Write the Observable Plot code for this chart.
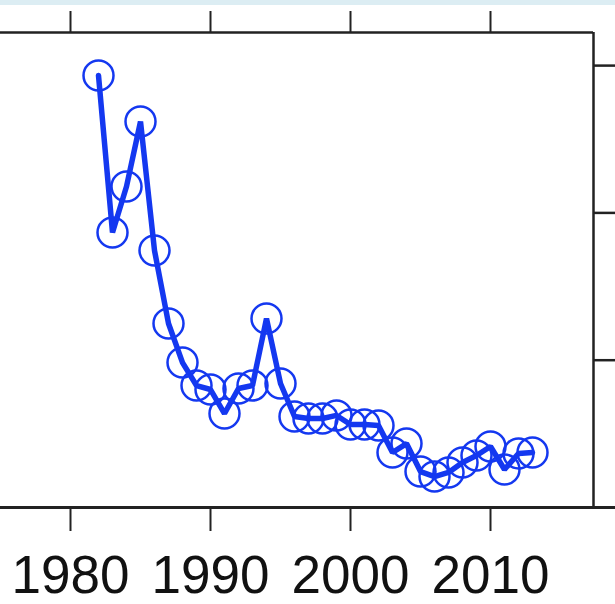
<!DOCTYPE html>
<html>
<head>
<meta charset="utf-8">
<script src="https://cdn.jsdelivr.net/npm/d3@7"></script>
<script src="https://cdn.jsdelivr.net/npm/@observablehq/plot@0.6"></script>
<style>
  html, body { margin: 0; padding: 0; background: #ffffff; }
  #band { width: 615px; height: 5px; background: #dcedf3; position: absolute; top: 0; left: 0; }
  #chart { position: absolute; top: 0; left: 0; }
</style>
</head>
<body>
<div id="chart"></div>
<div id="band"></div>
<script>
const years = [1982,1983,1984,1985,1986,1987,1988,1989,1990,1991,1992,1993,1994,1995,1996,1997,1998,1999,2000,2001,2002,2003,2004,2005,2006,2007,2008,2009,2010,2011,2012,2013];
const values = [2.933,1.867,2.179,2.620,1.745,1.249,0.984,0.828,0.801,0.638,0.808,0.828,1.283,0.842,0.618,0.604,0.604,0.625,0.563,0.563,0.557,0.373,0.434,0.244,0.210,0.238,0.305,0.353,0.414,0.258,0.367,0.373];
const xTicks = [1980, 1990, 2000, 2010];
const yTicks = [0, 1, 2, 3];

const data = years.map((y, i) => ({year: y, value: values[i]}));

const W = 615, H = 604;
const mL = 0, mR = 22, mT = 32, mB = 97;
const pxPerYear = 14;
const x0 = 1980 - 70 / pxPerYear;
const x1 = x0 + (W - mL - mR) / pxPerYear;
const yPx = 147.3;
const yMax = (H - mT - mB) / yPx;
const xFar = x0 + (W - mL) / pxPerYear;

const blue = "#1438f0";
const ink = "#222222";

const chart = Plot.plot({
  width: W,
  height: H,
  marginLeft: mL,
  marginRight: mR,
  marginTop: mT,
  marginBottom: mB,
  style: {fontFamily: "'Liberation Sans', Arial, Helvetica, sans-serif", background: "transparent", color: ink},
  x: {domain: [x0, x1], label: null},
  y: {domain: [0, yMax], label: null},
  marks: [
    Plot.axisX({anchor: "top", ticks: xTicks, tickSize: 22, tickFormat: () => "", strokeWidth: 2, stroke: ink, label: null}),
    Plot.axisX({anchor: "bottom", ticks: xTicks, tickSize: 24, tickPadding: 24, tickFormat: d => String(d), fontSize: 53, strokeWidth: 2, stroke: ink, fill: "#111", label: null}),
    Plot.axisY({anchor: "right", ticks: yTicks, tickSize: 22, tickFormat: () => "", strokeWidth: 2.5, stroke: ink, label: null}),
    Plot.ruleY([yMax], {stroke: ink, strokeWidth: 2.5}),
    Plot.ruleX([x1], {stroke: ink, strokeWidth: 2.5}),
    Plot.ruleY([0], {x1: x0, x2: xFar, stroke: ink, strokeWidth: 3, clip: false}),
    Plot.line(data, {x: "year", y: "value", stroke: blue, strokeWidth: 5.5, strokeLinejoin: "miter"}),
    Plot.dot(data, {x: "year", y: "value", r: 15, stroke: blue, strokeWidth: 2.5, fill: "none"})
  ]
});
document.getElementById("chart").appendChild(chart);
</script>
</body>
</html>
